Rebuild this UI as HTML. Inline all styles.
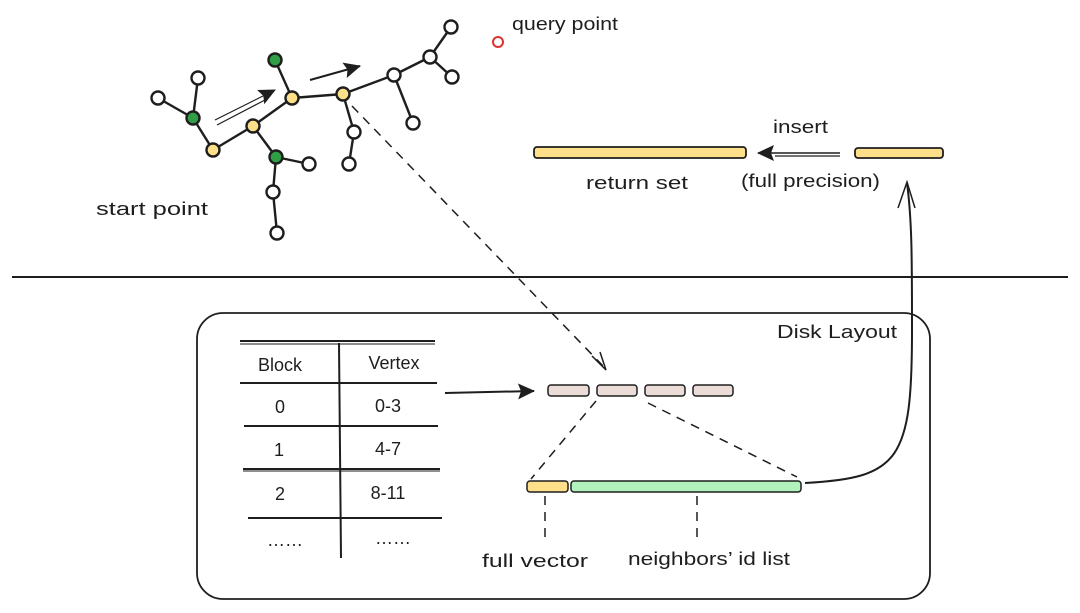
<!DOCTYPE html>
<html><head><meta charset="utf-8"><style>
html,body{margin:0;padding:0;background:#fff;width:1080px;height:613px;overflow:hidden}
text{font-family:"Liberation Sans",sans-serif;font-size:18px;fill:#1e1e1e}
</style></head><body>
<svg width="1080" height="613" viewBox="0 0 1080 613" xmlns="http://www.w3.org/2000/svg">
<defs>
<marker id="ah" markerWidth="18" markerHeight="16" refX="16" refY="8" orient="auto" markerUnits="userSpaceOnUse"><path d="M0,0 L17,8 L0,16 L3,8 z" fill="#1e1e1e"/></marker>
</defs>
<g stroke="#1e1e1e" stroke-width="2.4" fill="none">
<line x1="158" y1="98" x2="193" y2="118"/><line x1="198" y1="78" x2="193" y2="118"/>
<line x1="193" y1="118" x2="213" y2="150"/><line x1="213" y1="150" x2="253" y2="126"/>
<line x1="253" y1="126" x2="292" y2="98"/><line x1="253" y1="126" x2="276" y2="157"/>
<line x1="276" y1="157" x2="309" y2="164"/><line x1="276" y1="157" x2="273" y2="192"/>
<line x1="273" y1="192" x2="277" y2="233"/><line x1="275" y1="60" x2="292" y2="98"/>
<line x1="292" y1="98" x2="343" y2="94"/><line x1="343" y1="94" x2="394" y2="75"/>
<line x1="343" y1="94" x2="354" y2="132"/><line x1="354" y1="132" x2="349" y2="164"/>
<line x1="394" y1="75" x2="413" y2="123"/><line x1="394" y1="75" x2="430" y2="57"/>
<line x1="430" y1="57" x2="451" y2="27"/><line x1="430" y1="57" x2="452" y2="77"/>
</g>
<g stroke="#1e1e1e" stroke-width="2.4">
<g fill="#fff">
<circle cx="158" cy="98" r="6.5"/><circle cx="198" cy="78" r="6.5"/><circle cx="309" cy="164" r="6.5"/>
<circle cx="273" cy="192" r="6.5"/><circle cx="277" cy="233" r="6.5"/><circle cx="354" cy="132" r="6.5"/>
<circle cx="349" cy="164" r="6.5"/><circle cx="394" cy="75" r="6.5"/><circle cx="413" cy="123" r="6.5"/>
<circle cx="430" cy="57" r="6.5"/><circle cx="451" cy="27" r="6.5"/><circle cx="452" cy="77" r="6.5"/>
</g>
<g fill="#2f9e44"><circle cx="193" cy="118" r="6.5"/><circle cx="275" cy="60" r="6.5"/><circle cx="276" cy="157" r="6.5"/></g>
<g fill="#ffe08a"><circle cx="213" cy="150" r="6.5"/><circle cx="253" cy="126" r="6.5"/><circle cx="292" cy="98" r="6.5"/><circle cx="343" cy="94" r="6.5"/></g>
</g>
<circle cx="498" cy="42" r="5" fill="none" stroke="#e03131" stroke-width="2"/>
<text x="512" y="30" textLength="106" lengthAdjust="spacingAndGlyphs">query point</text>
<text x="96" y="215" textLength="112" lengthAdjust="spacingAndGlyphs">start point</text>
<line x1="215" y1="120" x2="275" y2="90" stroke="#1e1e1e" stroke-width="1.2" marker-end="url(#ah)"/>
<line x1="217" y1="125" x2="265" y2="100" stroke="#1e1e1e" stroke-width="1.2"/>
<line x1="310" y1="80" x2="360" y2="66" stroke="#1e1e1e" stroke-width="2" marker-end="url(#ah)"/>
<line x1="352" y1="106" x2="605" y2="368" stroke="#1e1e1e" stroke-width="1.5" stroke-dasharray="9,7"/>
<path d="M592,356 L606,370 L600,352" fill="none" stroke="#1e1e1e" stroke-width="1.5"/>
<!-- top right -->
<rect x="534" y="147" width="212" height="11" rx="3" fill="#ffe08a" stroke="#1e1e1e" stroke-width="1.8"/>
<rect x="855" y="148" width="88" height="10" rx="3" fill="#ffe08a" stroke="#1e1e1e" stroke-width="1.8"/>
<line x1="840" y1="153" x2="758" y2="153" stroke="#1e1e1e" stroke-width="1.5" marker-end="url(#ah)"/>
<line x1="840" y1="156" x2="775" y2="156" stroke="#1e1e1e" stroke-width="1.2"/>
<text x="773" y="133" textLength="55" lengthAdjust="spacingAndGlyphs">insert</text>
<text x="586" y="189" textLength="102" lengthAdjust="spacingAndGlyphs">return set</text>
<text x="741" y="187" textLength="139" lengthAdjust="spacingAndGlyphs">(full precision)</text>
<!-- divider -->
<line x1="12" y1="277" x2="1068" y2="277" stroke="#1e1e1e" stroke-width="2"/>
<!-- disk box -->
<rect x="197" y="313" width="733" height="286" rx="26" fill="none" stroke="#1e1e1e" stroke-width="1.8"/>
<text x="777" y="338" textLength="120" lengthAdjust="spacingAndGlyphs">Disk Layout</text>
<!-- table -->
<g stroke="#1e1e1e" stroke-width="2">
<line x1="240" y1="341" x2="435" y2="341"/><line x1="240" y1="344" x2="435" y2="344" stroke-width="1"/>
<line x1="240" y1="383" x2="437" y2="383"/>
<line x1="244" y1="426" x2="438" y2="426"/>
<line x1="243" y1="469" x2="440" y2="469"/><line x1="243" y1="471" x2="440" y2="471" stroke-width="1"/>
<line x1="248" y1="518" x2="442" y2="518"/>
<line x1="339" y1="343" x2="341" y2="558"/>
</g>
<g text-anchor="middle">
<text x="280" y="371">Block</text><text x="394" y="369">Vertex</text>
<text x="280" y="413">0</text><text x="388" y="412">0-3</text>
<text x="279" y="456">1</text><text x="388" y="455">4-7</text>
<text x="280" y="500">2</text><text x="388" y="499">8-11</text>
<text x="285" y="546">……</text><text x="393" y="544">……</text>
</g>
<line x1="445" y1="393" x2="534" y2="391" stroke="#1e1e1e" stroke-width="2" marker-end="url(#ah)"/>
<g fill="#ebdcd8" stroke="#1e1e1e" stroke-width="1.5">
<rect x="548" y="385" width="41" height="11" rx="3"/><rect x="597" y="385" width="40" height="11" rx="3"/>
<rect x="645" y="385" width="40" height="11" rx="3"/><rect x="693" y="385" width="40" height="11" rx="3"/>
</g>
<line x1="596" y1="401" x2="531" y2="479" stroke="#1e1e1e" stroke-width="1.5" stroke-dasharray="9,7"/>
<line x1="648" y1="403" x2="797" y2="477" stroke="#1e1e1e" stroke-width="1.5" stroke-dasharray="9,7"/>
<rect x="527" y="481" width="41" height="11" rx="3" fill="#ffe08a" stroke="#1e1e1e" stroke-width="1.5"/>
<rect x="571" y="481" width="230" height="11" rx="3" fill="#b2f2bb" stroke="#1e1e1e" stroke-width="1.5"/>
<line x1="545" y1="496" x2="545" y2="538" stroke="#1e1e1e" stroke-width="1.5" stroke-dasharray="9,7"/>
<line x1="697" y1="496" x2="697" y2="538" stroke="#1e1e1e" stroke-width="1.5" stroke-dasharray="9,7"/>
<text x="482" y="567" textLength="106" lengthAdjust="spacingAndGlyphs">full vector</text>
<text x="628" y="565" textLength="162" lengthAdjust="spacingAndGlyphs">neighbors’ id list</text>
<path d="M805,483 C900,478 912,460 912,330 C912,260 912,220 907,183" fill="none" stroke="#1e1e1e" stroke-width="2"/>
<path d="M898,208 L907,182 L915,208" fill="none" stroke="#1e1e1e" stroke-width="1.5"/>
</svg>
</body></html>
